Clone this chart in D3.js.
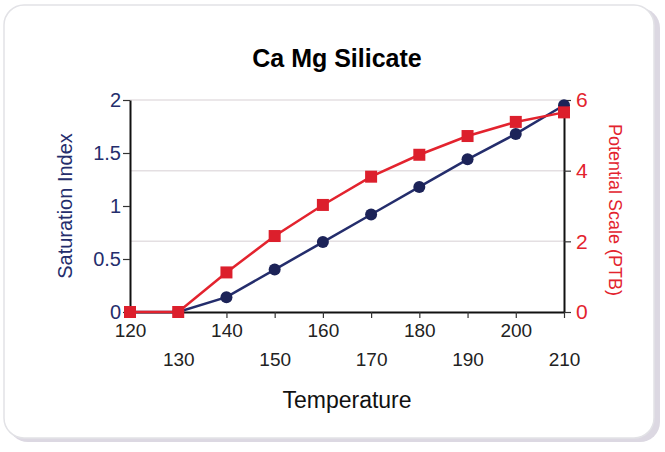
<!DOCTYPE html>
<html>
<head>
<meta charset="utf-8">
<script src="https://cdn.jsdelivr.net/npm/d3@7"></script>
<style>
    body { margin: 0; background: #fff; }
    text { font-family: "Liberation Sans", Arial, sans-serif; }
    .domain { stroke: #111; stroke-width: 2px; }
    .tick line { stroke: #333; stroke-width: 1.2px; }
</style>
</head>
<body>
<div id="chart"></div>
<script>
//chart data
var temps = [120, 130, 140, 150, 160, 170, 180, 190, 200, 210];
var satIndex = [0, 0, 0.14, 0.40, 0.66, 0.92, 1.18, 1.44, 1.68, 1.95];
var ptb = [0, 0, 1.12, 2.15, 3.03, 3.83, 4.45, 4.98, 5.38, 5.65];
var leftTicks = [0, 0.5, 1, 1.5, 2];
var rightTicks = [0, 2, 4, 6];

//size of svg and plot area (window.top is reserved, so plot* names)
var w = 665;
var h = 452;
var plotLeft = 130, plotRight = 564, plotTop = 100, plotBottom = 312;

var navy = "#242d6c";
var red = "#e3232e";

var svg = d3.select("#chart")
        .append("svg")
        .attr("width", w)
        .attr("height", h);

//card with soft shadow
svg.append("rect")
    .attr("x", 8).attr("y", 8)
    .attr("width", 652).attr("height", 434)
    .attr("rx", 20)
    .attr("fill", "#dcd8e2");
svg.append("rect")
    .attr("x", 4).attr("y", 5)
    .attr("width", 650).attr("height", 433)
    .attr("rx", 20)
    .attr("fill", "#fff")
    .attr("stroke", "#e2e2e6")
    .attr("stroke-width", 1.5);

//scales
var xScale = d3.scalePoint()
        .domain(temps)
        .range([plotLeft, plotRight]);

var yLeft = d3.scaleLinear()
        .domain([0, 2])
        .range([plotBottom, plotTop]);

var yRight = d3.scaleLinear()
        .domain([0, 6])
        .range([plotBottom, plotTop]);

//gridlines follow the right axis
svg.append("g")
    .selectAll("line")
    .data(rightTicks.slice(1))
    .enter()
    .append("line")
    .attr("x1", plotLeft)
    .attr("x2", plotRight)
    .attr("y1", function(d) { return yRight(d); })
    .attr("y2", function(d) { return yRight(d); })
    .attr("stroke", "#e4dfe2")
    .attr("stroke-width", 1.5);

//left axis
var gLeft = svg.append("g")
    .attr("transform", "translate(" + plotLeft + ",0)")
    .call(d3.axisLeft(yLeft).tickValues(leftTicks).tickSize(7).tickSizeOuter(0)
        .tickFormat(function(d) { return d; }));
gLeft.selectAll("text")
    .attr("fill", navy)
    .style("font-size", "20px")
    .attr("x", -9);

//right axis
var gRight = svg.append("g")
    .attr("transform", "translate(" + plotRight + ",0)")
    .call(d3.axisRight(yRight).tickValues(rightTicks).tickSize(7).tickSizeOuter(0)
        .tickFormat(function(d) { return d; }));
gRight.selectAll("text")
    .attr("fill", red)
    .style("font-size", "21px")
    .attr("x", 12);

//bottom axis, labels staggered on two rows
var gBottom = svg.append("g")
    .attr("transform", "translate(0," + plotBottom + ")")
    .call(d3.axisBottom(xScale).tickSize(6).tickSizeOuter(0));
gBottom.selectAll("text")
    .attr("fill", "#222")
    .style("font-size", "19px")
    .attr("y", function(d, i) { return i % 2 == 0 ? 12 : 41; });

//blue line: saturation index
var lineLeft = d3.line()
        .x(function(d, i) { return xScale(temps[i]); })
        .y(function(d) { return yLeft(d); });

svg.append("path")
    .datum(satIndex)
    .attr("d", lineLeft)
    .attr("fill", "none")
    .attr("stroke", navy)
    .attr("stroke-width", 2.5);

svg.append("g")
    .selectAll("circle")
    .data(satIndex)
    .enter()
    .append("circle")
    .attr("cx", function(d, i) { return xScale(temps[i]); })
    .attr("cy", function(d) { return yLeft(d); })
    .attr("r", 6)
    .attr("fill", "#1c2358");

//red line: potential scale
var lineRight = d3.line()
        .x(function(d, i) { return xScale(temps[i]); })
        .y(function(d) { return yRight(d); });

svg.append("path")
    .datum(ptb)
    .attr("d", lineRight)
    .attr("fill", "none")
    .attr("stroke", red)
    .attr("stroke-width", 2.5);

svg.append("g")
    .selectAll("rect")
    .data(ptb)
    .enter()
    .append("rect")
    .attr("x", function(d, i) { return xScale(temps[i]) - 6; })
    .attr("y", function(d) { return yRight(d) - 6; })
    .attr("width", 12)
    .attr("height", 12)
    .attr("fill", "#dc1f2c");

//titles
svg.append("text")
    .attr("x", 337)
    .attr("y", 67)
    .attr("text-anchor", "middle")
    .style("font-size", "25px")
    .style("font-weight", "bold")
    .text("Ca Mg Silicate");

svg.append("text")
    .attr("x", 347)
    .attr("y", 408)
    .attr("text-anchor", "middle")
    .style("font-size", "23px")
    .attr("fill", "#111")
    .text("Temperature");

svg.append("text")
    .attr("transform", "translate(72," + ((plotTop + plotBottom) / 2) + ") rotate(-90)")
    .attr("text-anchor", "middle")
    .style("font-size", "20px")
    .attr("fill", navy)
    .text("Saturation Index");

svg.append("text")
    .attr("transform", "translate(609," + ((plotTop + plotBottom) / 2 + 4) + ") rotate(90)")
    .attr("text-anchor", "middle")
    .style("font-size", "18px")
    .attr("fill", red)
    .text("Potential Scale (PTB)");
</script>
</body>
</html>
